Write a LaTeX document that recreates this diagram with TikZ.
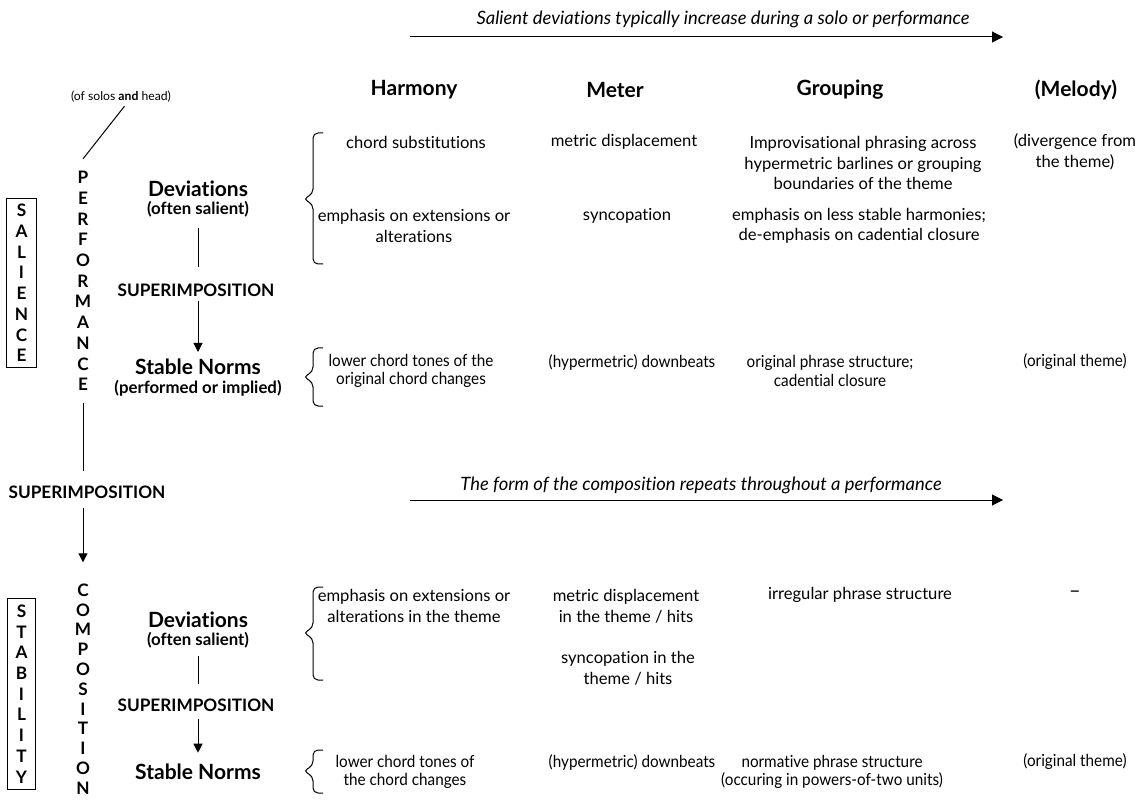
\documentclass[tikz,border=0pt]{standalone}
\usepackage{fontspec}
\setmainfont[Ligatures=NoCommon]{Lato}
\newfontfamily\narrowfont[FakeStretch=0.92,Ligatures=NoCommon]{Lato}
\usetikzlibrary{arrows.meta}

\tikzset{
  body/.style={font=\fontsize{8.3}{10.3}\selectfont, align=center, inner sep=0pt},
  narrow/.style={font=\narrowfont\fontsize{8.3}{9.3}\selectfont, align=center, inner sep=0pt},
  trend/.style={font=\fontsize{9.2}{10}\selectfont\itshape, inner sep=0pt},
  head/.style={font=\fontsize{10.5}{12}\selectfont\bfseries, inner sep=0pt},
  level/.style={font=\fontsize{8.4}{9.4}\selectfont\bfseries, align=center, inner sep=0pt},
  sup/.style={font=\fontsize{8.6}{10}\selectfont\bfseries, inner sep=0pt},
  vword/.style={font=\fontsize{8.6}{10.35}\selectfont\bfseries, align=center, inner sep=0pt},
  brc/.style={line width=0.5pt, rounded corners=2.5pt},
  link/.style={line width=0.5pt},
  flow/.style={line width=0.5pt, -{Triangle[length=4.5pt,width=4.5pt]}},
}
\newcommand{\lvltitle}[1]{{\fontsize{10.5}{9.4}\selectfont #1}}
% brace: top, tip, bottom
\newcommand{\rowbrace}[3]{%
  \draw[brc] (323,#1) -- (313,#1) -- (313,{#2-5}) -- (303,#2) -- (313,{#2+5}) -- (313,#3) -- (323,#3);}

\begin{document}
\begin{tikzpicture}[x=0.5pt, y=-0.5pt]
\useasboundingbox (0,0) rectangle (1138,801);

% Trend arrows
\node[trend] (trendA) at (723,19) {Salient deviations typically increase during a solo or performance};
\coordinate (a0) at (410,37);
\coordinate (a1) at (1003,37);
\draw[flow, -{Triangle[length=5.5pt,width=5.5pt]}] (a0) -- (a1);

\node[trend] (trendB) at (701,485) {The form of the composition repeats throughout a performance};
\coordinate (b0) at (410,500);
\coordinate (b1) at (1003,500);
\draw[flow, -{Triangle[length=5.5pt,width=5.5pt]}] (b0) -- (b1);

% Column heads
\node[head] (harmony) at (414,90) {Harmony};
\node[head] (meter) at (615,90) {Meter};
\node[head] (grouping) at (840,90) {Grouping};
\node[head] (melody) at (1076,90) {(Melody)};

% Left side: salience / stability and performance / composition
\node[vword, draw, line width=0.5pt, inner xsep=4pt, inner ysep=3pt] (salience) at (21.5,283) {S\\A\\L\\I\\E\\N\\C\\E};
\node[vword, draw, line width=0.5pt, inner xsep=4pt, inner ysep=3pt] (stability) at (21.5,694) {S\\T\\A\\B\\I\\L\\I\\T\\Y};

\node[font=\fontsize{6.1}{7}\selectfont, inner sep=0pt] (note) at (121,97) {(of solos \textbf{and} head)};
\node[vword] (perf) at (83,281) {P\\E\\R\\F\\O\\R\\M\\A\\N\\C\\E};
\node[sup] (supM) at (87,492) {SUPERIMPOSITION};
\node[vword, font=\fontsize{8.6}{9.9}\selectfont\bfseries] (comp) at (83,689) {C\\O\\M\\P\\O\\S\\I\\T\\I\\O\\N};

\draw[link, shorten <=2pt] ([xshift=3pt]note.south) -- ([yshift=6pt]perf.north);
\draw[link, shorten <=6pt, shorten >=7pt] (perf.south) -- (perf.south |- supM.north);
\draw[flow, shorten <=4.5pt, shorten >=10.5pt] (comp.north |- supM.south) -- (comp.north);

% Performance levels
\node[level] (dev1) at (198,199) {\lvltitle{Deviations}\\(often salient)};
\node[sup] (sup1) at (196,290) {SUPERIMPOSITION};
\node[level] (nrm1) at (198,378) {\lvltitle{Stable Norms}\\(performed or implied)};
\draw[link, shorten <=5pt, shorten >=8pt] (dev1.south) -- (dev1.south |- sup1.north);
\draw[flow, shorten <=2pt, shorten >=3.5pt] (nrm1.north |- sup1.south) -- (nrm1.north);

% Composition levels
\node[level] (dev2) at (198,630) {\lvltitle{Deviations}\\(often salient)};
\node[sup] (sup2) at (196,705) {SUPERIMPOSITION};
\node[level] (nrm2) at (198,772) {\lvltitle{Stable Norms}};
\draw[link, shorten <=3.5pt, shorten >=7pt] (dev2.south) -- (dev2.south |- sup2.north);
\draw[flow, shorten <=3.5pt, shorten >=5.5pt] (nrm2.north |- sup2.south) -- (nrm2.north);

% Braces
\rowbrace{133}{199}{264}
\rowbrace{348}{377}{406}
\rowbrace{587}{633}{680}
\rowbrace{750}{771}{793}

% Performance deviations
\node[body] (h1) at (416,142) {chord substitutions};
\node[body] (h2) at (414,226) {emphasis on extensions or\\alterations};
\node[body] (m1) at (624,142) {metric displacement};
\node[body] (m2) at (627,216) {syncopation};
\node[body] (g1) at (863,163) {Improvisational phrasing across\\hypermetric barlines or grouping\\boundaries of the theme};
\node[body] (g2) at (859,226) {emphasis on less stable harmonies;\\de-emphasis on cadential closure};
\node[body] (l1) at (1075,152) {(divergence from\\the theme)};

% Performance norms
\node[narrow] (h3) at (411,371) {lower chord tones of the\\original chord changes};
\node[narrow] (m3) at (632,362) {(hypermetric) downbeats};
\node[narrow] (g3) at (830,371) {original phrase structure;\\cadential closure};
\node[narrow] (l3) at (1075,362) {(original theme)};

% Composition deviations
\node[body] (h4) at (414,606) {emphasis on extensions or\\alterations in the theme};
\node[body] (m4) at (626,606) {metric displacement\\in the theme / hits};
\node[body] (m5) at (628,668) {syncopation in the\\theme / hits};
\node[body] (g4) at (860,595) {irregular phrase structure};
\node[body, font=\fontsize{10}{10}\selectfont] (l4) at (1075,594) {–};

% Composition norms
\node[narrow] (h5) at (405,772) {lower chord tones of\\the chord changes};
\node[narrow] (m6) at (632,762) {(hypermetric) downbeats};
\node[narrow] (g5) at (832,772) {normative phrase structure\\(occuring in powers-of-two units)};
\node[narrow] (l5) at (1075,762) {(original theme)};

\end{tikzpicture}
\end{document}
